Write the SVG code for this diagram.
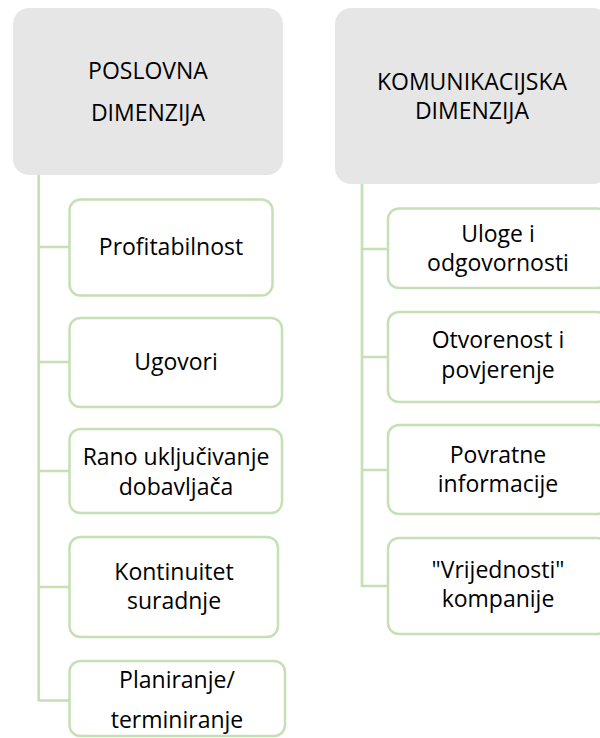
<svg xmlns="http://www.w3.org/2000/svg" width="600" height="738" viewBox="0 0 600 738">
<style>
.parent{fill:#e6e6e6;stroke:none}
.child{fill:#ffffff;stroke:#c5e0b4;stroke-width:2.5}
.conn{fill:none;stroke:#c5e0b4;stroke-width:2.7}
text{font-family:"Open Sans","Liberation Sans",sans-serif;font-size:23px;fill:#000;text-anchor:middle}
</style>
<rect width="600" height="738" fill="#ffffff"/>
<g id="connectors">
<path class="conn" d="M38.7,175 V701.5 M38.7,247 H69.5 M38.7,362 H69.5 M38.7,471 H69.5 M38.7,587 H69.5 M38.7,700.5 H69.5"/>
<path class="conn" d="M362,184 V587 M362,249 H388 M362,357 H388 M362,470 H388 M362,586 H388"/>
</g>
<g id="poslovna">
<rect class="parent" x="13" y="8" width="270" height="167" rx="16"/>
<text x="148" y="79">POSLOVNA</text>
<text x="148" y="121">DIMENZIJA</text>
</g>
<g id="komunikacijska">
<rect class="parent" x="335" y="8" width="274" height="176" rx="16"/>
<text x="472" y="90">KOMUNIKACIJSKA</text>
<text x="472" y="119">DIMENZIJA</text>
</g>
<g id="profitabilnost">
<rect class="child" x="69.5" y="199.5" width="203" height="96" rx="11"/>
<text x="171" y="255">Profitabilnost</text>
</g>
<g id="ugovori">
<rect class="child" x="69.5" y="318" width="212.5" height="89" rx="11"/>
<text x="176" y="370">Ugovori</text>
</g>
<g id="rano">
<rect class="child" x="69.5" y="429" width="212.5" height="84" rx="11"/>
<text x="176" y="465">Rano uključivanje</text>
<text x="176" y="495">dobavljača</text>
</g>
<g id="kontinuitet">
<rect class="child" x="69.5" y="537" width="208.5" height="100" rx="11"/>
<text x="174" y="580">Kontinuitet</text>
<text x="174" y="609">suradnje</text>
</g>
<g id="planiranje">
<rect class="child" x="69.5" y="661" width="215.5" height="75" rx="11"/>
<text x="177" y="688">Planiranje/</text>
<text x="177" y="728">terminiranje</text>
</g>
<g id="uloge">
<rect class="child" x="388" y="208.5" width="220" height="79.5" rx="11"/>
<text x="498" y="241.5">Uloge i</text>
<text x="498" y="271">odgovornosti</text>
</g>
<g id="otvorenost">
<rect class="child" x="388" y="312" width="220" height="90" rx="11"/>
<text x="498" y="348">Otvorenost i</text>
<text x="498" y="377.5">povjerenje</text>
</g>
<g id="povratne">
<rect class="child" x="388" y="425" width="220" height="89" rx="11"/>
<text x="498" y="463">Povratne</text>
<text x="498" y="492">informacije</text>
</g>
<g id="vrijednosti">
<rect class="child" x="388" y="538" width="220" height="96" rx="11"/>
<text x="498" y="578">"Vrijednosti"</text>
<text x="498" y="607">kompanije</text>
</g>
</svg>
